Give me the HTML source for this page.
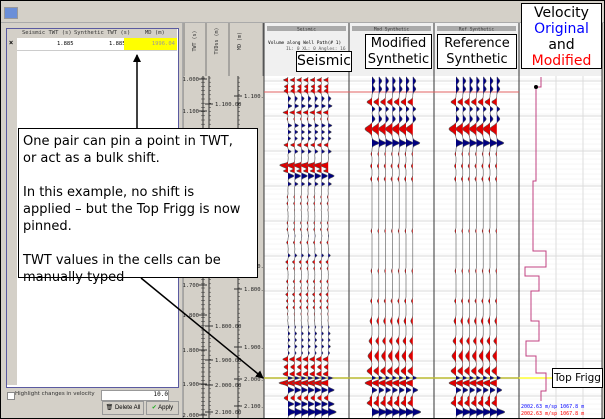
<!DOCTYPE html>
<html><head><meta charset="utf-8"><style>
body{margin:0;width:605px;height:419px;overflow:hidden;background:#fff;font-family:"Liberation Sans",sans-serif}
#c{position:absolute;left:0;top:0;width:603px;height:417px;border:1px solid #000;background:#d4d0c8;overflow:hidden}
.abs{position:absolute}
.box{position:absolute;background:#fff;border:1.5px solid #000;font-family:"DejaVu Sans",sans-serif;color:#000;text-align:center;line-height:1.05;white-space:nowrap;box-sizing:border-box}
</style></head><body>
<div id="c">
<div class="abs" style="left:3px;top:6px;width:12px;height:10px;background:#6b8fd8;border:1px solid #999"></div>
<div class="abs" style="left:0;top:21px;width:605px;height:1px;background:#aaa"></div>
<div class="abs" style="left:5px;top:27px;width:171px;height:358px;border:1px solid #5a5aa0;background:#fff"></div>
<div class="abs" style="left:6px;top:28px;width:10px;height:356px;background:#d4d0c8"></div>
<div class="abs" style="left:16px;top:28px;width:160px;height:9px;background:#d4d0c8;font:5.5px 'DejaVu Sans Mono',monospace;color:#333">
<span class="abs" style="left:5px;top:1px">Seismic TWT (s)</span><span class="abs" style="left:57px;top:1px">Synthetic TWT (s)</span><span class="abs" style="left:128px;top:1px">MD (m)</span></div>
<div class="abs" style="left:8px;top:39px;font:bold 7px sans-serif">×</div>
<div class="abs" style="left:16px;top:37px;width:160px;height:12px;font:5.5px 'DejaVu Sans Mono',monospace;border-bottom:1px solid #ccc">
<span class="abs" style="left:40px;top:3px">1.885</span><span class="abs" style="left:92px;top:3px">1.885</span>
<div class="abs" style="left:107px;top:0;width:53px;height:12px;background:#ffff00;color:#999"><span class="abs" style="right:2px;top:3px">1996.04</span></div></div>
<div class="abs" style="left:6px;top:391px;width:6px;height:6px;border:1px solid #888;background:#fff"></div>
<div class="abs" style="left:14px;top:390px;font:5.5px 'DejaVu Sans',sans-serif;color:#333">Highlight changes in velocity</div>
<div class="abs" style="left:100px;top:389px;width:66px;height:9px;background:#fff;border:1px solid #999;font:6px monospace;text-align:right">10.0 </div>
<div class="abs" style="left:101px;top:400px;width:40px;height:12px;border:1px solid #999;font:6px sans-serif;line-height:12px;text-align:center">🗑 Delete All</div>
<div class="abs" style="left:145px;top:400px;width:31px;height:12px;border:1px solid #999;font:6px sans-serif;line-height:12px;text-align:center"><span style="color:#2a2">✔</span> Apply</div>
<div class="abs" style="left:181px;top:22px;width:1px;height:395px;background:#aaa"></div>
<svg class="abs" style="left:0;top:0" width="605" height="419" id="s"></svg>
<div class="box" style="left:295px;top:50px;width:56px;height:21px;font-size:14px;line-height:19px">Seismic</div>
<div class="box" style="left:364px;top:33px;width:67px;height:35px;font-size:13px;line-height:16px;padding-top:1px">Modified<br>Synthetic</div>
<div class="box" style="left:436px;top:33px;width:80px;height:35px;font-size:13px;line-height:16px;padding-top:1px">Reference<br>Synthetic</div>
<div class="box" style="left:520px;top:2px;width:81px;height:66px;font-size:14px;line-height:16px;padding-top:1px">Velocity<br><span style="color:#00f">Original</span><br>and<br><span style="color:#f00">Modified</span></div>
<div class="box" style="left:17px;top:127px;width:240px;height:150px;text-align:left;font-size:13px;line-height:17px;padding:4px 14px 4px 4px;white-space:normal">One pair can pin a point in TWT, or act as a bulk shift.<br><br>In this example, no shift is applied – but the Top Frigg is now pinned.<br><br>TWT values in the cells can be manually typed</div>
<div class="box" style="left:551px;top:367px;width:51px;height:20px;font-size:10.5px;line-height:18px">Top Frigg</div>
</div>
<script>
var s=document.getElementById('s'),h='';
function r(x,y,w,hh,f){h+='<rect x="'+x+'" y="'+y+'" width="'+w+'" height="'+hh+'" fill="'+f+'"/>';}
function l(x1,y1,x2,y2,c,w){h+='<line x1="'+x1+'" y1="'+y1+'" x2="'+x2+'" y2="'+y2+'" stroke="'+c+'" stroke-width="'+(w||1)+'"/>';}
function t(x,y,tx,sz,anc,c,rot){h+='<text x="'+x+'" y="'+y+'" font-size="'+sz+'" font-family="DejaVu Sans Mono" fill="'+(c||'#222')+'" text-anchor="'+(anc||'start')+'"'+(rot?' transform="rotate(-90 '+x+' '+y+')"':'')+'>'+tx+'</text>';}
[183,205,228].forEach(function(x,i){r(x,22,[22,23,34][i],53,'#d4d0c8');l(x,22,x,417,'#777');t(x+12,40,['TWT (s)','TVDss (m)','MD (m)'][i],5,'middle','#333',true);});
l(262,22,262,417,'#777');
r(183,75,80,342,'#d4d0c8');
function ticks(x,labs,side){l(x,75,x,417,'#333');for(var y=77;y<417;y+=4.2)l(x-(side?0:2),y,x+2,y,'#333',0.5);labs.forEach(function(a){l(x-4,a[0],x+4,a[0],'#333');t(side?x+6:x-4,a[0]+2,a[1],5.5,side?'start':'end');});}
ticks(202,[[78,'1.000'],[110,'1.100'],[146,''],[181,''],[216,''],[251,'1.600'],[284,'1.700'],[314,'1.800'],[349,'1.800'],[383,'1.900'],[414,'2.000']],0);
ticks(208,[[103,'1.100.00'],[325,'1.800.00'],[359,'1.900.00'],[384,'2.000.00'],[411,'2.100.00']],1);
ticks(237,[[95,'1.100.00'],[265,'1.700.00'],[288,'1.800.00'],[346,'1.900.00'],[378,'2.000.00'],[405,'2.100.00']],1);
var tr=[[263,348,'Seismic'],[348,433,'Mod Synthetic'],[433,518,'Ref Synthetic'],[518,601,'']];
tr.forEach(function(a){r(a[0],22,a[1]-a[0],53,'#f0f0f0');r(a[0]+3,25,a[1]-a[0]-6,5,'#aaa');t((a[0]+a[1])/2,29.5,a[2],4.5,'middle','#333');r(a[0],75,a[1]-a[0],342,'#fff');
for(var y=78;y<417;y+=5)l(a[0],y,a[1],y,'#eee',0.5);for(var y=80;y<417;y+=35)l(a[0],y,a[1],y,'#ccc',0.7);l(a[0],22,a[0],417,'#333');});
l(601,22,601,417,'#333');
[555,582].forEach(function(x){l(x,75,x,417,'#ddd');});
t(267,43,'Volume along Well Path(# 1)',4.5,'start','#000');t(285,49,'IL: 0 XL: 0 Angles: 16',4.5,'start','#555');
l(263,91,518,91,'#e06060');l(263,377,600,377,'#ffff33',1.5);l(263,377,518,377,'#333',0.5);
function rnd(n){var x=Math.sin(n*12.9898)*43758.5453;return x-Math.floor(x);}
function wig(x0,ev,k){
 var pts=[];for(var y=76;y<417;y+=0.7){var v=0;ev.forEach(function(e){var d=(y-e[0])/e[2];v+=e[1]*Math.exp(-d*d);});pts.push([x0+v,y]);}
 var blue='M'+x0+',76',red='M'+x0+',76',line='M'+x0+',76';
 pts.forEach(function(p){blue+=' L'+Math.max(p[0],x0).toFixed(1)+','+p[1].toFixed(1);red+=' L'+Math.min(p[0],x0).toFixed(1)+','+p[1].toFixed(1);line+=' L'+p[0].toFixed(1)+','+p[1].toFixed(1);});
 blue+=' L'+x0+',416Z';red+=' L'+x0+',416Z';
 h+='<path d="'+blue+'" fill="#000080"/><path d="'+red+'" fill="#e00000"/><path d="'+line+'" fill="none" stroke="#555" stroke-width="0.6"/>';}
var evS=[];
for(var y=79;y<365;y+=6.5){var a=(rnd(y)-0.5)*2;a=a*(y<150||(y>140&&y<190)?5:2.5);evS.push([y,a,1.4]);}
evS.push([90,-4,2],[98,4,2],[165,-6,2.2],[175,6,2.2],[358,-3,2],[366,-4,2],[373,-5,2],[377,5,1.2],[382,-9,2],[389,6,2],[397,-4,2],[403,6,2],[411,8,2.5]);
var evM=[[80,3,3],[88,3,3],[101,-5,2.5],[108,3,2],[118,3,3],[128,-7,4],[142,7,2.5],[153,-1,2],[165,-1.5,2],[178,-1.5,2],[230,-1,2],[270,-1,2],[300,-1.5,2],[320,-2,3],[340,-3,3],[355,-4,4],[370,-5,3],[377,4,1.5],[382,-7,2.5],[389,5,2],[397,-2,2],[402,-5,2.5],[411,8,2.5]];
for(var i=0;i<7;i++){wig(287+i*6.7,evS,i);wig(371+i*6.8,evM,i);wig(455+i*6.8,evM,i);}
h+='<polyline points="540,76 540,86 535,86 535,180 532,180 532,250 545,250 545,266 524,266 524,275 538,275 538,290 530,290 530,320 538,320 538,340 525,340 525,355 535,355 535,372 545,372 545,390 540,390 540,400" fill="none" stroke="#c04080" stroke-width="1"/>';
h+='<circle cx="535" cy="86" r="2" fill="#000"/>';
t(520,407,'2002.63 m/sp 1067.8 m',5,'start','#00f');t(520,414,'2002.63 m/sp 1067.8 m',5,'start','#f00');
h+='<defs><marker id="a" markerWidth="8" markerHeight="8" refX="7" refY="4" orient="auto" markerUnits="userSpaceOnUse"><path d="M0,0 L8,4 L0,8Z"/></marker></defs>';
h+='<line x1="136" y1="127" x2="136" y2="54" stroke="#000" stroke-width="1.5" marker-end="url(#a)"/>';
h+='<line x1="140" y1="277" x2="262" y2="377" stroke="#000" stroke-width="1.5" marker-end="url(#a)"/>';
s.innerHTML=h;
</script>
</body></html>
